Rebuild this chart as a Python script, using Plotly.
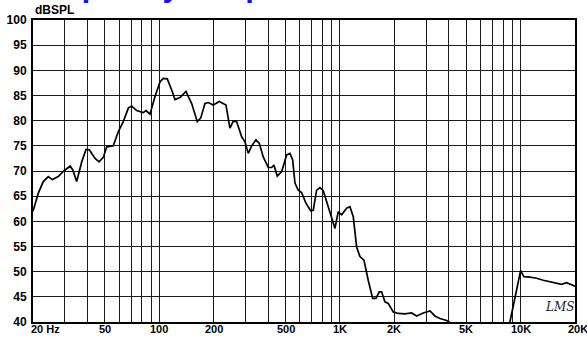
import math
import plotly.graph_objects as go

# Measured on-axis SPL of the driver (Hz, dB SPL)
freq_hz = [
    20, 21.4, 22.8, 24.3, 25.6, 27.6, 29.4, 32.1, 33.2, 34.9,
    37.2, 39.3, 41.0, 44.1, 46.4, 49.0, 51.2, 55.6, 59.3, 63.2,
    67.4, 70.3, 75.0, 81.5, 84.4, 88.8, 94.7, 100.9, 105.2, 110.7,
    117.1, 122.1, 130.2, 140.5, 151.1, 162.3, 169.5, 179.0, 186.7, 199.0,
    214.8, 234, 246, 256.8, 268.2, 285.8, 298, 310.8, 324.6, 343,
    357.8, 376.2, 401, 418.8, 431.2, 449.8, 475.8, 507, 528.8, 547.4,
    563.6, 587.8, 613.8, 648.4, 688.4, 711.6, 743, 775, 808.4, 850.8,
    899.6, 938.4, 978.6, 1022, 1089, 1136, 1185, 1237, 1290, 1358,
    1434, 1517, 1582, 1650, 1701, 1774, 1850, 1972, 2102, 2290,
    2493, 2657, 2891, 3148, 3356, 3577, 3895, 4026, 4500, 5000,
    6000, 7000, 8000, 8726, 10000, 10432, 11260, 12270, 13340, 14530,
    15820, 16860, 17970, 19150, 20000,
]
spl_db = [
    62.0, 65.6, 67.9, 68.9, 68.3, 68.9, 69.9, 71.0, 70.2, 67.9,
    71.8, 74.3, 74.2, 72.5, 71.8, 72.7, 74.8, 75.0, 77.8, 79.8,
    82.5, 82.9, 82.0, 81.6, 82.0, 81.3, 84.8, 87.7, 88.4, 88.3,
    86.1, 84.2, 84.6, 85.8, 83.4, 79.8, 80.5, 83.4, 83.6, 83.1,
    83.8, 83.1, 78.5, 79.9, 79.8, 76.8, 75.8, 73.5, 75.0, 76.2,
    75.5, 72.8, 70.7, 70.7, 71.2, 69.0, 69.9, 73.2, 73.5, 72.2,
    67.6, 66.2, 65.7, 63.6, 62.1, 62.2, 66.2, 66.7, 66.1, 63.6,
    60.9, 58.6, 61.9, 61.3, 62.6, 62.9, 60.9, 54.9, 53.0, 52.3,
    48.3, 44.7, 44.7, 46.0, 46.0, 44.0, 43.7, 42.0, 41.7, 41.6,
    41.8, 41.2, 41.8, 42.2, 41.2, 40.7, 40.3, 40.0, 38.0, 36.0,
    34.0, 34.0, 36.0, 40.0, 50.2, 49.0, 48.9, 48.7, 48.3, 48.0,
    47.7, 47.5, 47.8, 47.3, 47.1,
]

# Axis grid and labels
grid_freqs = [20, 30, 40, 50, 60, 70, 80, 90, 100,
              200, 300, 400, 500, 600, 700, 800, 900, 1000,
              2000, 3000, 4000, 5000, 6000, 7000, 8000, 9000, 10000, 20000]
x_label_vals = [20, 50, 100, 200, 500, 1000, 2000, 5000, 10000, 20000]
x_label_text = ["20 Hz", "50", "100", "200", "500", "1K", "2K", "5K", "10K", "20K"]
y_ticks = [40, 45, 50, 55, 60, 65, 70, 75, 80, 85, 90, 95, 100]

FONT = "Liberation Sans, Arial, sans-serif"

fig = go.Figure()
fig.add_trace(go.Scatter(
    x=freq_hz, y=spl_db, mode="lines",
    line=dict(color="#000000", width=1.7),
    hoverinfo="skip", showlegend=False,
))

annotations = []
for v, t in zip(x_label_vals, x_label_text):
    anchor = "center"
    shift = 0
    if v == 20:
        anchor, shift = "left", -4
    elif v == 20000:
        shift = 3
    annotations.append(dict(
        x=math.log10(v), y=0, xref="x", yref="paper",
        text="<b>%s</b>" % t, showarrow=False,
        xanchor=anchor, yanchor="top", xshift=shift, yshift=1,
        font=dict(family=FONT, size=11, color="#000"),
    ))

# Axis title above the value axis
annotations.append(dict(
    x=0, y=1, xref="paper", yref="paper", text="<b>dBSPL</b>",
    showarrow=False, xanchor="left", yanchor="bottom", xshift=0, yshift=1,
    font=dict(family=FONT, size=12, color="#000"),
))
# Chart heading
annotations.append(dict(
    x=0, y=1, xref="paper", yref="paper", text="<b>Frequency Response</b>",
    showarrow=False, xanchor="left", yanchor="bottom", xshift=-12, yshift=15,
    font=dict(family=FONT, size=31, color="#1010ff"),
))
# Software mark
annotations.append(dict(
    x=math.log10(16500), y=43, xref="x", yref="y", text="<i>LMS</i>",
    showarrow=False, xanchor="center", yanchor="middle",
    font=dict(family="DejaVu Serif, serif", size=12, color="#222"),
))

fig.update_layout(
    width=587, height=337,
    margin=dict(l=33, r=12, t=20, b=15, autoexpand=False),
    paper_bgcolor="#ffffff", plot_bgcolor="#ffffff",
    annotations=annotations,
    xaxis=dict(
        type="log", range=[math.log10(20), math.log10(20000)],
        tickvals=grid_freqs, showticklabels=False, ticks="",
        showgrid=True, gridcolor="#1a1a1a", gridwidth=1,
        showline=True, linecolor="#000", linewidth=2, mirror=True,
        zeroline=False, fixedrange=True,
    ),
    yaxis=dict(
        range=[40, 100], tickvals=y_ticks,
        ticktext=["<b>%d</b>" % v for v in y_ticks],
        tickfont=dict(family=FONT, size=12, color="#000"),
        ticks="", ticklabelstandoff=2,
        showgrid=True, gridcolor="#1a1a1a", gridwidth=1,
        showline=True, linecolor="#000", linewidth=2, mirror=True,
        zeroline=False, fixedrange=True,
    ),
)

fig.write_html("out.html")
